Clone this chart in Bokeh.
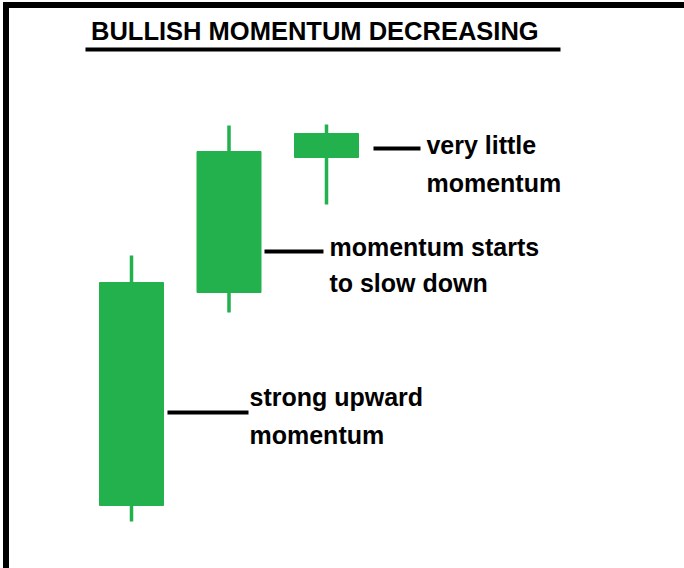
from bokeh.plotting import figure
from bokeh.models import Range1d
from bokeh.core.properties import value
from bokeh.embed import file_html
from bokeh.resources import INLINE

# ---- data (prices; arbitrary units) ----
candle_x = [1, 2, 3]
opens = [6.3, 27.6, 41.1]
closes = [28.6, 41.7, 43.5]
highs = [31.3, 44.3, 44.4]
lows = [4.7, 25.6, 36.4]

title_text = "BULLISH MOMENTUM DECREASING"
note_lines = [["strong upward", "momentum"],
              ["momentum starts", "to slow down"],
              ["very little", "momentum"]]

GREEN = "#22b14c"
PX_X = 97.5          # pixels per x unit
PX_Y = 10.0          # pixels per price unit
W, H = 684, 568
BASE_FIX = 1.05      # baseline correction for svg text

x0 = 1 - 131 / PX_X
p = figure(width=W, height=H, output_backend="svg", toolbar_location=None,
           x_range=Range1d(x0, x0 + W / PX_X), y_range=Range1d(0, H / PX_Y),
           min_border=0, outline_line_color=None)
p.axis.visible = False
p.grid.visible = False
p.background_fill_color = "white"
p.border_fill_color = "white"

# frame border (left and top)
xs, xe = p.x_range.start, p.x_range.end
ys, ye = p.y_range.start, p.y_range.end
p.quad(left=[xs + 3 / PX_X], right=[xs + 8 / PX_X], bottom=[ys], top=[ye - 2 / PX_Y],
       color="black")
p.quad(left=[xs + 3 / PX_X], right=[xe], bottom=[ye - 7 / PX_Y], top=[ye - 2 / PX_Y],
       color="black")

# candles
body_w = 64 / PX_X
p.segment(x0=candle_x, y0=lows, x1=candle_x, y1=highs, line_color=GREEN,
          line_width=3.5, line_cap="butt")
p.vbar(x=candle_x, width=body_w, bottom=opens, top=closes,
       fill_color=GREEN, line_color=GREEN)

# connectors from candles to notes
conn_y = [15.6, 31.7, 42.0]
conn_x0 = [1.369, 2.364, 3.482]
conn_x1 = [2.200, 2.969, 3.964]
p.segment(x0=conn_x0, y0=conn_y, x1=conn_x1, y1=conn_y, line_color="black",
          line_width=4, line_cap="butt")

# notes
note_x = [2.21, 3.03, 4.025]
note_base = [(16.1, 12.3), (31.1, 27.5), (41.3, 37.5)]
tx, ty, tt = [], [], []
for lines, x, bases in zip(note_lines, note_x, note_base):
    for s, b in zip(lines, bases):
        tx.append(x); ty.append(b + BASE_FIX); tt.append(s)
p.text(x=tx, y=ty, text=tt, text_font=value("Liberation Sans"),
       text_font_style="bold", text_font_size="25px", text_color="black",
       text_align="left", text_baseline="alphabetic")

# title with underline
p.text(x=[0.585], y=[52.9 + BASE_FIX - 0.2], text=[title_text],
       text_font=value("Liberation Sans"),
       text_font_style="bold", text_font_size="25.5px", text_color="black",
       text_align="left", text_baseline="alphabetic")
p.segment(x0=[0.528], y0=[51.9], x1=[5.4], y1=[51.9], line_color="black",
          line_width=4, line_cap="butt")

open("out.html", "w").write(file_html(p, INLINE))
